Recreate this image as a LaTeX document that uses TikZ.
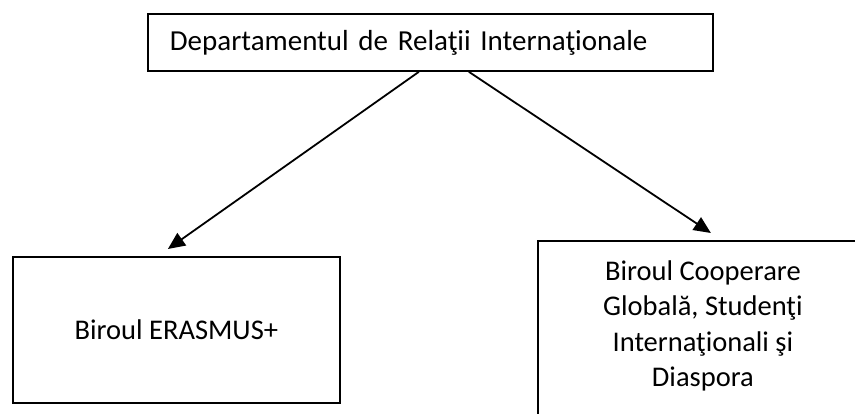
\documentclass[tikz,border=0pt]{standalone}
\usepackage{fontspec}
\setmainfont{Carlito}
\usetikzlibrary{arrows.meta}
\newcommand{\boxfont}{\fontsize{28.5}{31}\selectfont}
\begin{document}
\begin{tikzpicture}[x=1pt,y=-1pt,
  box/.style={draw, line width=1.8pt, inner sep=0pt},
  txt/.style={font=\boxfont},
  arr/.style={line width=1.8pt, -{Triangle[length=17pt,width=15pt]}}]
\useasboundingbox (0,0) rectangle (855,414);
\node[box, font=\fontsize{29}{31}\selectfont, anchor=north west, minimum width=565pt, minimum height=57pt,
      text width=521pt, inner xsep=22pt, align=left] (top) at (147,13)
      {Departamentul de Relaţii Internaţionale};
\node[box, txt, anchor=north west, minimum width=327pt, minimum height=146pt] (erasmus) at (12,256)
      {Biroul ERASMUS+};
\node[box, anchor=north west] (global) at (537,240)
      {\begin{minipage}[t][200pt][t]{330pt}\boxfont\centering\vspace*{20pt}Biroul Cooperare\\[4.3pt]Globală, Studenţi\\[4.3pt]Internaţionali şi\\[4.3pt]Diaspora\end{minipage}};
\draw[arr] ([xshift=-11.5pt]top.south) -- ([xshift=-8.5pt,yshift=7pt]erasmus.north);
\draw[arr] ([xshift=38.5pt]top.south) -- ([xshift=8pt,yshift=7pt]global.north);
\end{tikzpicture}
\end{document}
